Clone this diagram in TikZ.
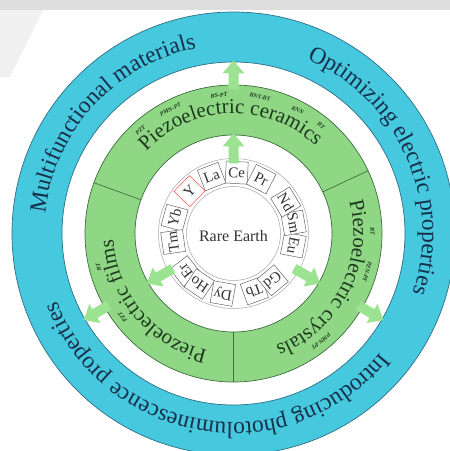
\documentclass[tikz,border=0pt]{standalone}
\usepackage{fontspec}
\setmainfont{Liberation Serif}
\usetikzlibrary{decorations.text}
\definecolor{ringblue}{HTML}{46C8DE}
\definecolor{ringblueedge}{HTML}{2E6F86}
\definecolor{ringgreen}{HTML}{8FD685}
\definecolor{ringgreenedge}{HTML}{3F6E3F}
\definecolor{arrowgreen}{HTML}{9BE391}
\definecolor{bluetext}{HTML}{17304A}
\definecolor{greentext}{HTML}{1E3A1E}
\definecolor{bandgray}{HTML}{DEDEDE}
\newcommand\ringbluefont{\fontsize{23.5}{24}\selectfont}
\newcommand\ringgreenfont{\fontsize{21}{22}\selectfont}
\begin{document}
\begin{tikzpicture}[x=1pt,y=1pt,
  elembox/.style={draw=gray!80!black, line width=0.5pt, fill=white, minimum size=22pt, inner sep=0pt, font=\fontsize{15}{15}\selectfont, text=black!80},
  smalllabel/.style={font=\fontsize{6}{6}\selectfont\bfseries\itshape, text=greentext, inner sep=0pt},
  ringedge/.style={line width=0.7pt},
  blockarrow/.style={fill=arrowgreen}
]
\useasboundingbox (0,0) rectangle (450,451);
\clip (0,0) rectangle (450,451);
\fill[white] (0,0) rectangle (450,451);
\fill[bandgray] (0,441) rectangle (450,451);
\fill[gray!12] (0,441) -- (43,441) -- (10,374) -- (0,374) -- cycle;
\coordinate (C) at (233.5,217.5);
% blue ring
\fill[ringblue, even odd rule] (C) circle[radius=221.5] (C) circle[radius=171.5];
\draw[ringblueedge, ringedge] (C) circle[radius=221.5] (C) circle[radius=171.5];
% green ring
\fill[ringgreen, even odd rule] (C) circle[radius=148.5] (C) circle[radius=98.5];
\draw[ringgreenedge, ringedge] (C) circle[radius=148.5] (C) circle[radius=98.5];
\foreach \a in {160,25,270}
  \draw[ringgreenedge, ringedge] ([shift={(\a:98.5)}]C) -- ([shift={(\a:148.5)}]C);
% element ring
\draw[gray!70, line width=0.5pt] (C) circle[radius=47] (C) circle[radius=75];
\foreach \a/\e/\n in {87/Ce/ce, 111/La/la, 165/Yb/yb, 188/Tm/tm, 218/Er/er, 236/Ho/ho, 260/Dy/dy, 290/Tb/tb, 310/Gd/gd, 349/Eu/eu, 10/Sm/sm, 31/Nd/nd, 63/Pr/pr}
  \node[elembox, rotate=\a-90] (el-\n) at ([shift={(\a:61)}]C) {\e};
\node[elembox, draw=red!70, rotate=46] (el-y) at ([shift={(136:61)}]C) {Y};
\node[font=\fontsize{16}{16}\selectfont, text=black!80] (rare) at ([shift={(0,-3)}]C) {Rare Earth};
% arrows
\foreach \a in {90,-30,210} {
  \begin{scope}[shift={(C)}, rotate=\a-90]
    \fill[blockarrow] (-5,70) -- (-5,87) -- (-11,87) -- (0,100) -- (11,87) -- (5,87) -- (5,70) -- cycle;
    \fill[blockarrow] (-5,144) -- (-5,160) -- (-11,160) -- (0,173) -- (11,160) -- (5,160) -- (5,144) -- cycle;
  \end{scope}
}
% blue ring texts
\path[decorate, decoration={text along path, text align=center, text color=bluetext, text={|\ringbluefont|Multifunctional materials}}]
  ([shift={(197.6:189)}]C) arc[start angle=197.6, end angle=77.6, radius=189];
\path[decorate, decoration={text along path, text align=center, text color=bluetext, text={|\ringbluefont|Optimizing electric properties}}]
  ([shift={(99.4:189)}]C) arc[start angle=99.4, end angle=-50.6, radius=189];
\path[decorate, decoration={text along path, text align=center, text color=bluetext, text={|\ringbluefont|Introducing photoluminescence properties}}]
  ([shift={(-19:189)}]C) arc[start angle=-19, end angle=-179, radius=189];
% green ring texts
\path[decorate, decoration={text along path, text align=center, text color=greentext, text={|\ringgreenfont|Piezoelectric ceramics}}]
  ([shift={(161.7:120)}]C) arc[start angle=161.7, end angle=21.7, radius=120];
\path[decorate, decoration={text along path, text align=center, text color=greentext, text={|\ringgreenfont|Piezoelectric crystals}}]
  ([shift={(43:120)}]C) arc[start angle=43, end angle=-97, radius=120];
\path[decorate, decoration={text along path, text align=center, text color=greentext, text={|\ringgreenfont|Piezoelectric films}}]
  ([shift={(290:120)}]C) arc[start angle=290, end angle=150, radius=120];
% small labels
\foreach \a/\t/\n in {132/PZT/c1, 117/PMN-PT/c2, 96/BS-PT/c3, 79/BNT-BT/c4, 62.5/KNN/c5, 51/BT/c6, 1/BT/r1, -16/PZN-PT/r2, -51/PMN-PT/r3, 194/BT/f1, 217/PZT/f2}
  \node[smalllabel, rotate=\a-90] (lab-\n) at ([shift={(\a:139)}]C) {\t};
\end{tikzpicture}
\end{document}
